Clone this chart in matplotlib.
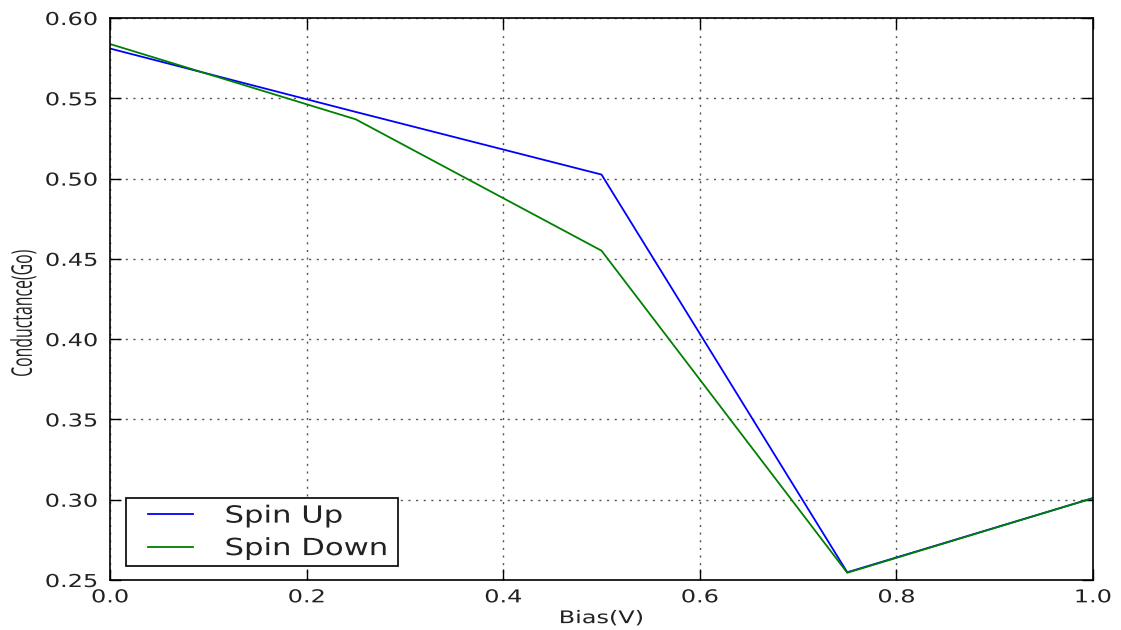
import matplotlib
matplotlib.use("Agg")
import matplotlib.pyplot as plt
from matplotlib.patheffects import AbstractPathEffect
from matplotlib.transforms import Affine2D
from matplotlib.legend_handler import HandlerLine2D

bias = [0.0, 0.25, 0.5, 0.75, 1.0]
spin_up = [0.581, 0.5415, 0.5025, 0.2548, 0.3010]
spin_down = [0.5838, 0.5369, 0.4551, 0.2545, 0.3010]

yticks = [0.25, 0.30, 0.35, 0.40, 0.45, 0.50, 0.55, 0.60]
xticks = [0.0, 0.2, 0.4, 0.6, 0.8, 1.0]


class Stretch(AbstractPathEffect):
    """Scale rendered glyphs in display space around a pivot of their extents."""

    def __init__(self, sx=1.0, sy=1.0, fx=0.5, fy=0.5, dx=0.0, dy=0.0):
        super().__init__()
        self.sx, self.sy, self.fx, self.fy, self.dx, self.dy = sx, sy, fx, fy, dx, dy

    def draw_path(self, renderer, gc, tpath, affine, rgbFace=None):
        ext = tpath.get_extents(affine)
        px = ext.x0 + self.fx * ext.width
        py = ext.y0 + self.fy * ext.height
        t = affine + (Affine2D().translate(-px, -py)
                      .scale(self.sx, self.sy)
                      .translate(px + self.dx, py + self.dy))
        renderer.draw_path(gc, tpath, t, rgbFace)


fig = plt.figure(figsize=(11.21, 6.30), dpi=100)
ax = fig.add_axes([110 / 1121, 1 - 580 / 630, (1093 - 110) / 1121, (580 - 18) / 630])

ax.plot(bias, spin_up, color="#0000ff", lw=1.3, label="Spin Up")
ax.plot(bias, spin_down, color="#008000", lw=1.3, label="Spin Down")

ax.set_xlim(0.0, 1.0)
ax.set_ylim(0.25, 0.60)
ax.set_xticks(xticks)
ax.set_yticks(yticks)
xl = ax.set_xticklabels([f"{t:.1f}" for t in xticks])
yl = ax.set_yticklabels([f"{t:.2f}" for t in yticks])
ax.tick_params(direction="in", length=8, width=1, labelsize=12.8, pad=9,
               top=True, right=True, colors="black", labelcolor="#222222")
ax.tick_params(axis="x", pad=6)
for t in xl:
    t.set_path_effects([Stretch(sx=1.35, fx=0.5)])
for t in yl:
    t.set_path_effects([Stretch(sx=1.35, fx=1.0)])
for s in ax.spines.values():
    s.set_linewidth(1.2)
    s.set_color("black")

ax.grid(True, color="#555555", linestyle=(0, (1.5, 4)), linewidth=1.0)

xlab = ax.set_xlabel("Bias(V)", fontsize=12.5, color="#222222", labelpad=2)
xlab.set_path_effects([Stretch(sx=1.38, fx=0.5)])
ylab = ax.set_ylabel("Conductance(Go)", fontsize=11.4,
                     family=["Open Sans", "DejaVu Sans"], color="#222222")
ylab.set_path_effects([Stretch(sx=1.8, fx=0.5)])
ax.yaxis.set_label_coords((32 - 110) / 983, (580 - 313) / 562)

line_handler = HandlerLine2D(marker_pad=0.68, numpoints=2)
leg = ax.legend(loc="lower left", fontsize=17, fancybox=False, frameon=True,
                handlelength=3.26, handletextpad=2.42, borderpad=0.25,
                labelspacing=0.36,
                bbox_to_anchor=((126 - 110) / 983, (580 - 566) / 562),
                borderaxespad=0,
                handler_map={ax.lines[0]: line_handler, ax.lines[1]: line_handler})
leg.get_frame().set_edgecolor("black")
leg.get_frame().set_linewidth(1.2)
leg.get_frame().set_alpha(1)
for t in leg.get_texts():
    t.set_color("#222222")
    t.set_path_effects([Stretch(sx=1.3, fx=0.0, dx=-41)])

fig.savefig("out.png", dpi=100, facecolor="white")
